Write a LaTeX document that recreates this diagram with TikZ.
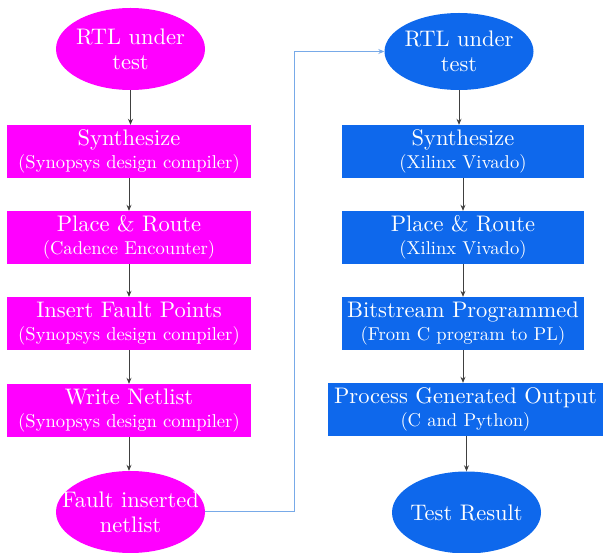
\documentclass[tikz,border=0pt]{standalone}
\usepackage{fontspec}
\setmainfont{lmroman10-regular.otf}
\usetikzlibrary{arrows.meta,positioning,shapes.geometric}
\definecolor{flowpink}{RGB}{255,0,255}
\definecolor{flowblue}{RGB}{14,104,236}
\definecolor{linkblue}{RGB}{120,170,232}
\newcommand{\steplabel}[2]{#1\\{\fontsize{18.6}{23}\selectfont #2}}

\begin{document}
\begin{tikzpicture}[x=1pt,y=-1pt,
    stepbox/.style={rectangle,minimum width=244pt,minimum height=53pt,inner sep=0pt,
      text=white,align=center,font=\fontsize{22.5}{23}\selectfont},
    termnode/.style={ellipse,minimum width=149pt,minimum height=82pt,inner xsep=-20pt,
      inner ysep=0pt,text=white,align=center,font=\fontsize{22.5}{25}\selectfont},
    flowarrow/.style={-{Stealth[length=6pt,width=5pt]},black!75,line width=0.8pt}]
    \useasboundingbox (0,0) rectangle (603,553);

    % Left column: fault insertion on the ASIC flow
    \node[termnode,fill=flowpink] (rtlA) at (130.5,49) {RTL under\\test};
    \node[stepbox,fill=flowpink] (synthA) at (129,151.5) {\steplabel{Synthesize}{(Synopsys design compiler)}};
    \node[stepbox,fill=flowpink] (placeA) at (129,237.5) {\steplabel{Place \& Route}{(Cadence Encounter)}};
    \node[stepbox,fill=flowpink] (insertA) at (129,323.5) {\steplabel{Insert Fault Points}{(Synopsys design compiler)}};
    \node[stepbox,fill=flowpink] (writeA) at (129,410.5) {\steplabel{Write Netlist}{(Synopsys design compiler)}};
    \node[termnode,fill=flowpink] (faultA) at (130.5,512) {Fault inserted\\netlist};

    % Right column: FPGA emulation flow
    \node[termnode,fill=flowblue,minimum height=77pt] (rtlB) at (459,51.5) {RTL under\\test};
    \node[stepbox,fill=flowblue,minimum width=242pt] (synthB) at (463,151.5) {\steplabel{Synthesize}{(Xilinx Vivado)}};
    \node[stepbox,fill=flowblue,minimum width=242pt] (placeB) at (463,237.5) {\steplabel{Place \& Route}{(Xilinx Vivado)}};
    \node[stepbox,fill=flowblue,minimum width=242pt] (bitB) at (463,323.5) {\steplabel{Bitstream Programmed}{(From C program to PL)}};
    \node[stepbox,fill=flowblue,minimum width=275pt] (procB) at (465.5,409.5) {\steplabel{Process Generated Output}{(C and Python)}};
    \node[termnode,fill=flowblue] (testB) at (466.5,512.5) {Test Result};

    % Arrows down each column
    \draw[flowarrow] (rtlA) -- (rtlA |- synthA.north);
    \draw[flowarrow] (synthA) -- (synthA |- placeA.north);
    \draw[flowarrow] (placeA) -- (placeA |- insertA.north);
    \draw[flowarrow] (insertA) -- (insertA |- writeA.north);
    \draw[flowarrow] (writeA) -- (writeA |- faultA.north);
    \draw[flowarrow] (rtlB) -- (rtlB |- synthB.north);
    \draw[flowarrow] (synthB) -- (synthB |- placeB.north);
    \draw[flowarrow] (placeB) -- (placeB |- bitB.north);
    \draw[flowarrow] (bitB) -- (bitB |- procB.north);
    \draw[flowarrow] (procB.south -| testB) -- (testB);

    % Netlist handed over to the FPGA flow
    \coordinate (handover) at (294,511);
    \draw[-{Stealth[length=6pt,width=5pt]},linkblue,line width=0.8pt] (faultA.east |- handover) -- (handover) |- (rtlB.west);
  \end{tikzpicture}
\end{document}
